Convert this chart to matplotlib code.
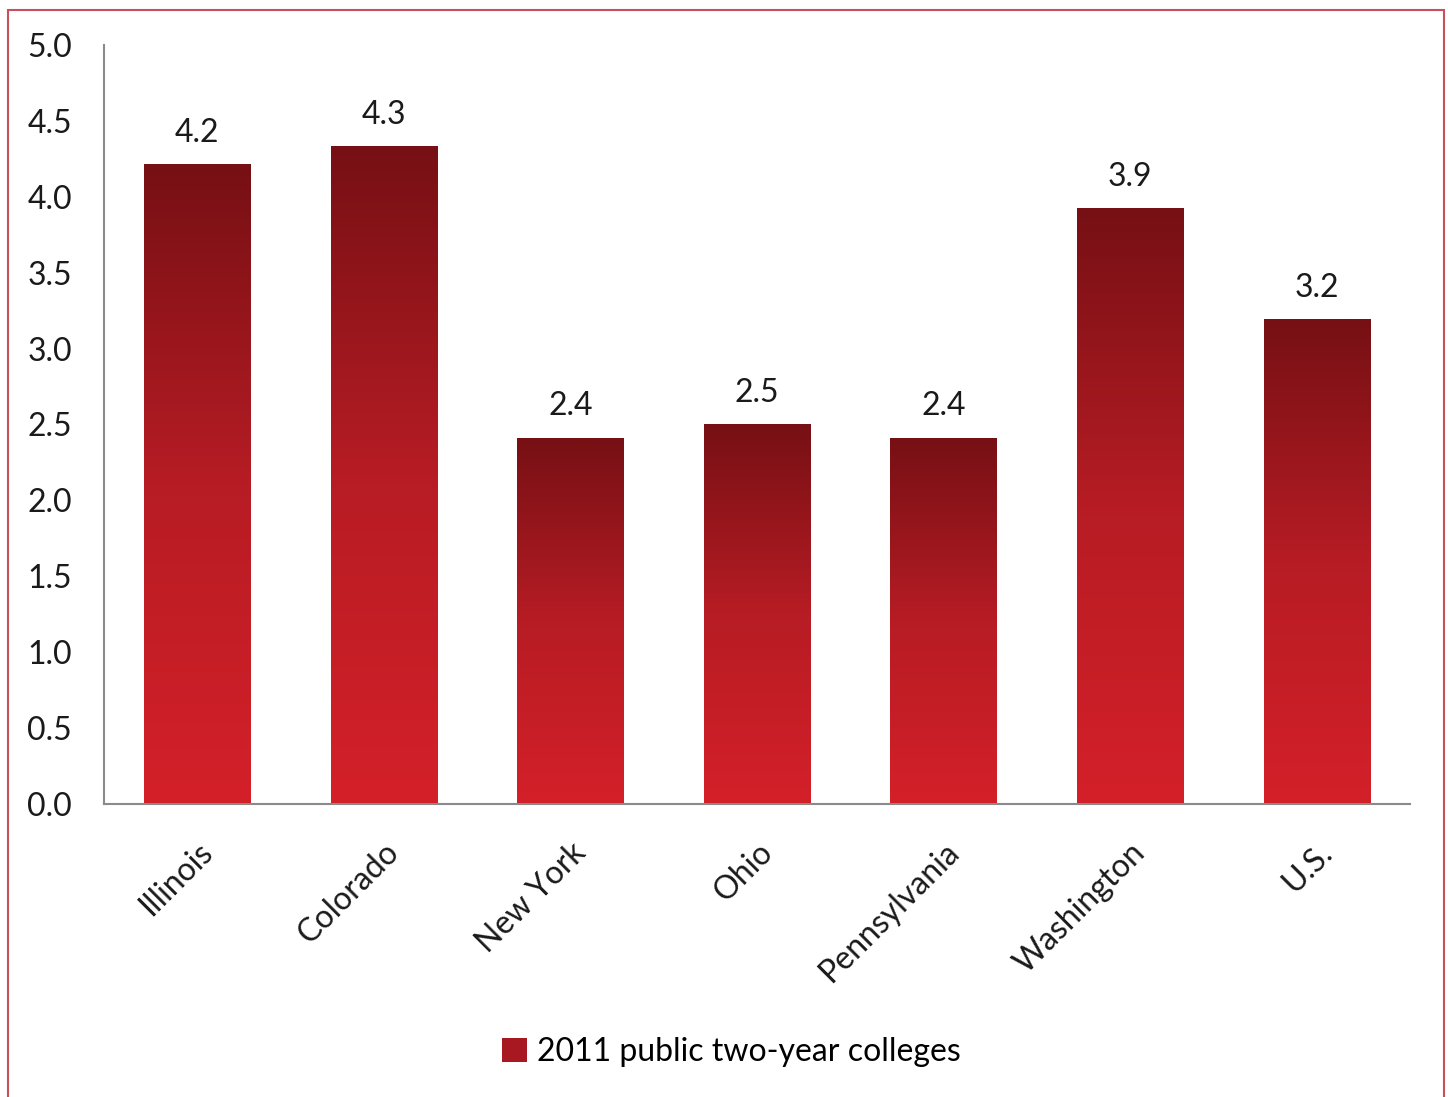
import matplotlib.pyplot as plt
import numpy as np
from matplotlib.colors import LinearSegmentedColormap
from matplotlib.patches import Rectangle, Patch

states = ["Illinois", "Colorado", "New York", "Ohio", "Pennsylvania", "Washington", "U.S."]
values = [4.21, 4.33, 2.41, 2.50, 2.41, 3.92, 3.19]
labels = ["4.2", "4.3", "2.4", "2.5", "2.4", "3.9", "3.2"]
yticks = [0.0, 0.5, 1.0, 1.5, 2.0, 2.5, 3.0, 3.5, 4.0, 4.5, 5.0]

plt.rcParams['font.family'] = ['Lato', 'DejaVu Sans']
fs = 23

fig = plt.figure(figsize=(14.48, 10.97), dpi=100)
ax = fig.add_axes([104 / 1448, 1 - 804 / 1097, 1306 / 1448, 759 / 1097])

cmap = LinearSegmentedColormap.from_list("bar", ["#d42029", "#b71c24", "#761014"])
grad = np.linspace(0, 1, 256).reshape(-1, 1)
width = 0.57

x = np.arange(len(states))
bars = ax.bar(x, values, width=width, color="none", edgecolor="none")
for b, lab in zip(bars, labels):
    x0, h = b.get_x(), b.get_height()
    ax.imshow(grad, cmap=cmap, origin="lower", aspect="auto",
              extent=(x0, x0 + width, 0, h), zorder=2)
    ax.annotate(lab, (x0 + width / 2, h), xytext=(0, 12), textcoords="offset points",
                ha="center", va="bottom", fontsize=fs, color="#1a1a1a")

ax.set_xlim(-0.5, len(states) - 0.5)
ax.set_ylim(0, 5)
ax.set_yticks(yticks)
ax.set_yticklabels([f"{t:.1f}" for t in yticks], fontsize=fs, color="#1a1a1a")
ax.set_xticks(x)
ax.set_xticklabels(states, rotation=45, ha="right", rotation_mode="anchor",
                   fontsize=fs, color="#1a1a1a")
ax.tick_params(axis="both", length=0)
ax.tick_params(axis="y", pad=23)
ax.tick_params(axis="x", pad=24)
for s in ["top", "right"]:
    ax.spines[s].set_visible(False)
for s in ["left", "bottom"]:
    ax.spines[s].set_color("#8a8a8a")
    ax.spines[s].set_linewidth(1.5)

fig.legend(handles=[Patch(facecolor="#a81820", label="2011 public two-year colleges")],
           loc="center", bbox_to_anchor=(0.505, 1 - 1052 / 1097), frameon=False,
           fontsize=fs, handlelength=0.8, handleheight=0.8, handletextpad=0.3)

fig.patches.append(Rectangle((8 / 1448, -0.01), 1436 / 1448, 1.01 - 10 / 1097,
                             transform=fig.transFigure, fill=False,
                             edgecolor="#c8505c", linewidth=1.5))

fig.savefig("out.png", dpi=100)
